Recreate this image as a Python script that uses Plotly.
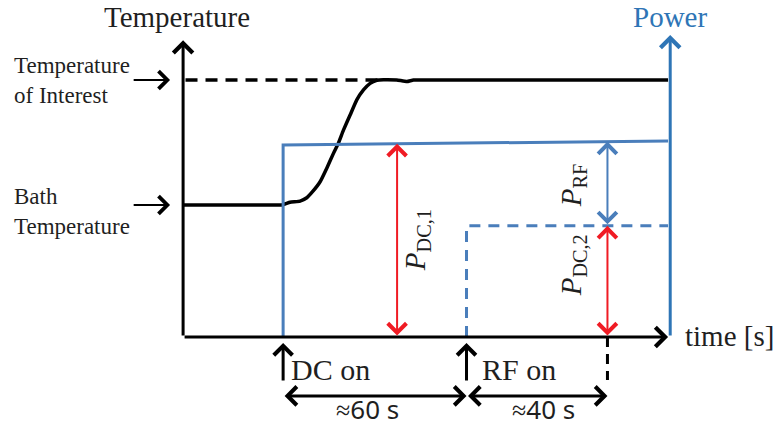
import numpy as np
import plotly.graph_objects as go

# ---- schematic data (time in s, temperature / power in arbitrary units) ----
t_temp = [0, 28.7, 32.6, 35.3, 38.6, 40.8, 42.7, 45.2, 47.4, 49.6, 51.2, 52.9,
          55.1, 57.3, 59.5, 61.7, 63.9, 66.1, 70.5, 73.8, 76.0, 81.5, 160]
temp = [43.7, 43.7, 43.7, 44.6, 45.0, 46.1, 48.1, 51.4, 55.9, 60.8, 64.1, 68.5,
        73.5, 78.5, 81.8, 84.0, 85.0, 85.2, 85.1, 84.6, 85.1, 85.1, 85.1]
T_bath = 43.7
T_interest = 85.1

t_dc_on = 33.0
t_rf_on = 93.5
t_meas = 140.0
t_end = 160.0

t_pdc1 = [t_dc_on, t_dc_on, t_end]
p_dc1 = [0, 63.6, 64.9]
t_pdc2 = [t_rf_on, t_rf_on, t_end]
p_dc2 = [0, 36.8, 36.8]

t_arrow_dc1 = 70.6

# ---- styling ----
BLACK = "#000000"
TEXT = "#1f1f1f"
BLUE_AX = "#2E75B6"
BLUE = "#4A7EBB"
RED = "#F01B24"
SERIF = "Liberation Serif"
SANS = "Noto Sans"

fig = go.Figure()

# dashed level of the target temperature
fig.add_trace(go.Scatter(x=[0.8, 66], y=[T_interest, T_interest], mode="lines",
                         line=dict(color=BLACK, width=3.5, dash="12px,8px"),
                         hoverinfo="skip"))
# temperature response
fig.add_trace(go.Scatter(x=t_temp, y=temp, mode="lines",
                         line=dict(color=BLACK, width=3.5, shape="spline", smoothing=0.35),
                         hoverinfo="skip"))
# DC power step
fig.add_trace(go.Scatter(x=t_pdc1, y=p_dc1, mode="lines",
                         line=dict(color=BLUE, width=3), hoverinfo="skip"))
# reduced DC power after RF on
fig.add_trace(go.Scatter(x=t_pdc2, y=p_dc2, mode="lines",
                         line=dict(color=BLUE, width=3, dash="11px,8px"),
                         hoverinfo="skip"))
# marker of the measurement end below the time axis
fig.add_trace(go.Scatter(x=[t_meas, t_meas], y=[0, -14.2], mode="lines",
                         line=dict(color=BLACK, width=3, dash="10px,7px"),
                         hoverinfo="skip"))

p1_at = lambda t: float(np.interp(t, t_pdc1[1:], p_dc1[1:]))

ann = []


def arrow(x0, y0, x1, y1, color, width, size, both=False):
    d = dict(x=x1, y=y1, ax=x0, ay=y0, xref="x", yref="y", axref="x", ayref="y",
             text="", showarrow=True, arrowhead=4, arrowwidth=width,
             arrowsize=size, arrowcolor=color, standoff=0, startstandoff=0)
    if both:
        d.update(arrowside="end+start", startarrowhead=4, startarrowsize=size)
    ann.append(d)


def label(x, y, text, size, color=TEXT, family=SERIF, xanchor="center", angle=0,
          align="left"):
    ann.append(dict(x=x, y=y, xref="x", yref="y", text=text, showarrow=False,
                    xanchor=xanchor, yanchor="middle", textangle=angle, align=align,
                    font=dict(family=family, size=size, color=color)))


# axes
arrow(0, 0, 0, 98.3, BLACK, 3, 1.25)
arrow(0, 0, t_end, 0, BLACK, 3, 1.25)
arrow(t_end + 0.7, 0, t_end + 0.7, 100, BLUE_AX, 3, 1.25)

# pointers to the temperature levels
arrow(-16.8, T_interest, -4.3, T_interest, BLACK, 2, 1.7)
arrow(-16.8, T_bath, -4.3, T_bath, BLACK, 2, 1.7)

# power differences
arrow(t_arrow_dc1, 0, t_arrow_dc1, p1_at(t_arrow_dc1), RED, 2, 1.8, both=True)
arrow(t_meas, p_dc2[1], t_meas, p1_at(t_meas), BLUE, 2, 1.8, both=True)
arrow(t_meas, 0, t_meas, p_dc2[1], RED, 2, 1.8, both=True)

# switch-on events and intervals
arrow(t_dc_on, -14.9, t_dc_on, -2.0, BLACK, 3, 1.2)
arrow(t_rf_on, -14.9, t_rf_on, -2.0, BLACK, 3, 1.2)
arrow(t_dc_on, -19.5, t_rf_on, -19.5, BLACK, 3, 1.2, both=True)
arrow(t_rf_on, -19.5, t_meas, -19.5, BLACK, 3, 1.2, both=True)

# texts
label(-2.0, 106, "Temperature", 29)
label(t_end + 0.7, 106, "Power", 29, color=BLUE_AX)
label(-56.4, T_interest, "Temperature<br>of Interest", 23, xanchor="left")
label(-56.4, 41.6, "Bath<br>Temperature", 23, xanchor="left")
label(165, 0.3, "time [s]", 29, xanchor="left")
label(35.0, -10.9, "DC on", 30, xanchor="left")
label(98.0, -10.9, "RF on", 30, xanchor="left")
label(60.7, -23.8, "≈60 s", 26, family=SANS)
label(118.8, -23.8, "≈40 s", 26, family=SANS)
label(77.2, 32.1, "<i>P</i><sub>DC,1</sub>", 29, angle=-90)
label(128.7, 50.3, "<i>P</i><sub>RF</sub>", 29, angle=-90)
label(128.7, 23.8, "<i>P</i><sub>DC,2</sub>", 29, angle=-90)

fig.update_layout(
    width=776, height=428, autosize=False,
    margin=dict(l=0, r=0, t=0, b=0),
    paper_bgcolor="white", plot_bgcolor="white",
    showlegend=False,
    annotations=ann,
    xaxis=dict(range=[-60.4, 195.6], visible=False, fixedrange=True),
    yaxis=dict(range=[-30.13, 111.59], visible=False, fixedrange=True),
)

fig.write_html("out.html")
